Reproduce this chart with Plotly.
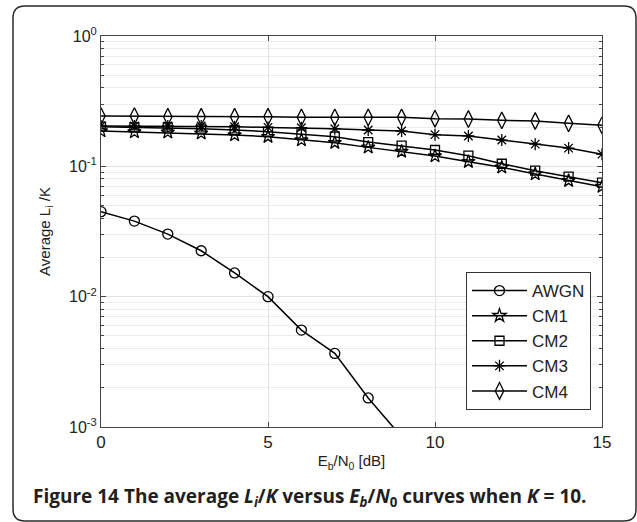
import plotly.graph_objects as go

ebn0 = list(range(16))
awgn_x = list(range(11))
awgn = [0.0449, 0.038, 0.0302, 0.0225, 0.0152, 0.0100, 0.00554, 0.00367, 0.00167, 0.00084, 0.0004]
cm1 = [0.1866, 0.1833, 0.1822, 0.179, 0.1738, 0.1688, 0.159, 0.1518, 0.1398, 0.130, 0.120, 0.1085, 0.0982, 0.0873, 0.0776, 0.0698]
cm2 = [0.2015, 0.199, 0.199, 0.1944, 0.190, 0.1845, 0.176, 0.1688, 0.1536, 0.144, 0.1334, 0.1207, 0.1047, 0.0926, 0.0833, 0.0749]
cm3 = [0.204, 0.204, 0.204, 0.204, 0.2015, 0.199, 0.198, 0.1944, 0.190, 0.1866, 0.175, 0.171, 0.159, 0.148, 0.138, 0.124]
cm4 = [0.243, 0.243, 0.240, 0.240, 0.240, 0.240, 0.2376, 0.2376, 0.2376, 0.2376, 0.232, 0.2307, 0.2253, 0.2227, 0.2137, 0.2064]

series = [
    ("AWGN", awgn_x, awgn, "circle-open", 10),
    ("CM1", ebn0, cm1, "star-open", 10),
    ("CM2", ebn0, cm2, "square-open", 9),
    ("CM3", ebn0, cm3, "asterisk-open", 10),
    ("CM4", ebn0, cm4, "diamond-tall-open", 12),
]

ytickvals = [1e-3, 1e-2, 1e-1, 1]
yticktext = ["10<sup>-3</sup>", "10<sup>-2</sup>", "10<sup>-1</sup>", "10<sup>0</sup>"]
xtickvals = [0, 5, 10, 15]

fig = go.Figure()
for name, xs, ys, sym, sz in series:
    fig.add_trace(go.Scatter(
        x=xs, y=ys, name=name, mode="lines+markers",
        line=dict(color="black", width=1.5),
        marker=dict(symbol=sym, size=sz, color="black", line=dict(color="black", width=1.3)),
        legendgroup=name,
    ))

W, H = 637, 522
L, R, T, B = 101, 35, 36, 95
pw, ph = W - L - R, H - T - B

def px(X):
    return (X - L) / pw

def py(Y):
    return (H - B - Y) / ph

# rounded outer frame
x0, x1, y0, y1, r = 13, 636, 6, 521, 12
path = (f"M {px(x0)},{py(y0 + r)} Q {px(x0)},{py(y0)} {px(x0 + r)},{py(y0)} "
        f"L {px(x1 - r)},{py(y0)} Q {px(x1)},{py(y0)} {px(x1)},{py(y0 + r)} "
        f"L {px(x1)},{py(y1 - r)} Q {px(x1)},{py(y1)} {px(x1 - r)},{py(y1)} "
        f"L {px(x0 + r)},{py(y1)} Q {px(x0)},{py(y1)} {px(x0)},{py(y1 - r)} Z")
fig.add_shape(type="path", path=path, xref="paper", yref="paper",
              line=dict(color="#2a2a2a", width=1.5), layer="below")

fig.add_annotation(
    text="<b>Figure 14 The average <i>L<sub>i</sub></i>/<i>K</i> versus <i>E<sub>b</sub></i>/<i>N</i><sub>0</sub> curves when <i>K</i> = 10.</b>",
    xref="paper", yref="paper", x=px(31), y=py(497), xanchor="left", yanchor="middle",
    showarrow=False, font=dict(family="Open Sans", size=19, color="#231f20"))

axis_common = dict(showline=True, linecolor="#444444", linewidth=1, mirror="ticks",
                   ticks="inside", tickcolor="#444444", ticklen=5,
                   showgrid=True, gridcolor="#e3e3e3", gridwidth=1, zeroline=False)

fig.update_xaxes(range=[0, 15], tickvals=xtickvals,
                 tickfont=dict(family="Liberation Sans", size=17, color="#222222"),
                 title=dict(text="E<sub>b</sub>/N<sub>0</sub> [dB]", standoff=4,
                            font=dict(family="Liberation Sans", size=15, color="#222222")),
                 **axis_common)
fig.update_yaxes(type="log", range=[-3, 0], tickvals=ytickvals, ticktext=yticktext,
                 tickfont=dict(family="Liberation Sans", size=16, color="#222222"),
                 minor=dict(dtick="D1", ticks="inside", ticklen=3, tickcolor="#444444",
                            showgrid=True, gridcolor="#ececec", gridwidth=1),
                 title=dict(text="Average L<sub>i</sub> /K", standoff=14,
                            font=dict(family="Liberation Sans", size=15, color="#222222")),
                 **axis_common)

fig.update_layout(
    width=W, height=H, margin=dict(l=L, r=R, t=T, b=B),
    paper_bgcolor="white", plot_bgcolor="white",
    showlegend=True,
    legend=dict(x=px(466), y=py(272), xanchor="left", yanchor="top",
                bgcolor="white", bordercolor="#333333", borderwidth=1,
                font=dict(family="Liberation Sans", size=17, color="#222222"),
                itemwidth=55,
                traceorder="grouped", tracegroupgap=0),
)

fig.write_html("out.html")
